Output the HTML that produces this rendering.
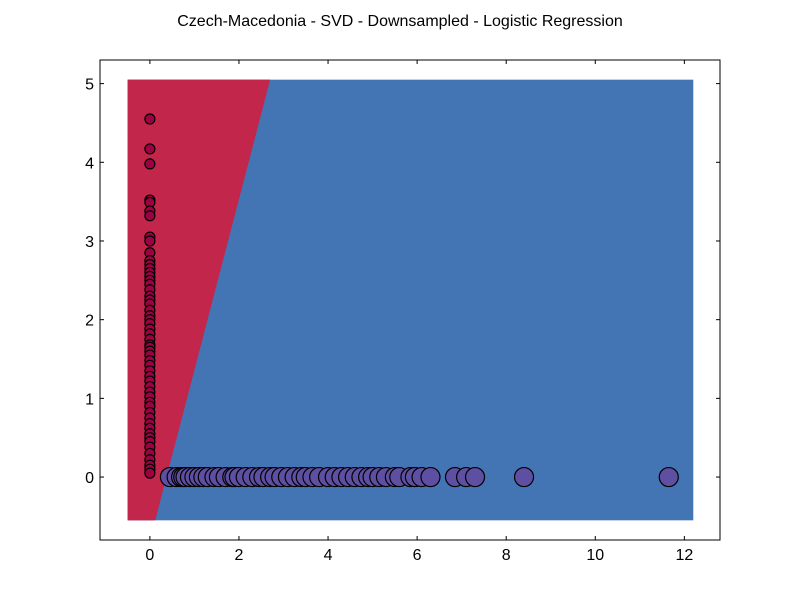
<!DOCTYPE html>
<html><head><meta charset="utf-8"><style>
body{margin:0;background:#fff;font-family:"Liberation Sans",sans-serif}
svg text{font-family:"Liberation Sans",sans-serif}
</style></head><body>
<svg id="chart" width="800" height="600" xmlns="http://www.w3.org/2000/svg">
<rect width="800" height="600" fill="#fff"/>
<text x="400" y="26" text-anchor="middle" font-size="16">Czech-Macedonia - SVD - Downsampled - Logistic Regression</text>
<g id="regions"></g><g id="pts"></g><g id="axes"></g>
</svg>
<script>
const redY=[4.55,4.17,3.98,3.52,3.49,3.38,3.32,3.05,3.0,2.85,2.75,2.7,2.65,2.6,2.55,2.5,2.45,2.38,2.3,2.25,2.2,2.12,2.05,2.0,1.95,1.88,1.82,1.75,1.68,1.65,1.6,1.55,1.48,1.42,1.35,1.28,1.22,1.15,1.08,1.02,0.95,0.9,0.82,0.75,0.68,0.62,0.55,0.5,0.45,0.38,0.3,0.22,0.15,0.1,0.05];
const purpleX=[0.45,0.6,0.7,0.75,0.8,0.9,1.0,1.1,1.2,1.3,1.45,1.55,1.7,1.85,1.9,2.0,2.15,2.3,2.45,2.55,2.7,2.8,2.95,3.1,3.25,3.4,3.5,3.65,3.8,4.0,4.15,4.3,4.45,4.6,4.75,4.9,5.0,5.15,5.3,5.5,5.6,5.85,5.95,6.1,6.3,6.85,7.1,7.3,8.4,11.65];
const xTicks=[0,2,4,6,8,10,12];
const yTicks=[0,1,2,3,4,5];
const boundary=[[2.7,5.05],[0.12,-0.55]];
const X0=100,X1=720,Y0=60,Y1=540,xmin=-1.12,xmax=12.8,ymin=-0.8,ymax=5.3;
const sx=v=>X0+(v-xmin)/(xmax-xmin)*(X1-X0);
const sy=v=>Y1-(v-ymin)/(ymax-ymin)*(Y1-Y0);
const NS="http://www.w3.org/2000/svg";
function mk(t,a,p){const e=document.createElementNS(NS,t);for(const k in a)e.setAttribute(k,a[k]);p.appendChild(e);return e;}
const R=document.getElementById('regions');
let e=mk('rect',{x:sx(-0.5),y:sy(5.05),width:sx(12.2)-sx(-0.5),height:sy(-0.55)-sy(5.05),fill:'#4374b3'},R);

e=mk('polygon',{points:`${sx(-0.5)},${sy(5.05)} ${sx(boundary[0][0])},${sy(boundary[0][1])} ${sx(boundary[1][0])},${sy(boundary[1][1])} ${sx(-0.5)},${sy(-0.55)}`,fill:'#c2264a'},R);

const P=document.getElementById('pts');
redY.forEach(v=>{const c=mk('circle',{cx:sx(0),cy:sy(v),r:5,fill:'#9e0142',stroke:'#000','stroke-width':1.2},P);

});
purpleX.forEach(v=>{const c=mk('circle',{cx:sx(v),cy:sy(0),r:9.5,fill:'#5e4fa2',stroke:'#000','stroke-width':1.2},P);

});
const A=document.getElementById('axes');
e=mk('rect',{x:X0,y:Y0,width:X1-X0,height:Y1-Y0,fill:'none',stroke:'#000','stroke-width':1},A);

xTicks.forEach(t=>{const x=sx(t);
mk('line',{x1:x,x2:x,y1:Y1,y2:Y1-4,stroke:'#000'},A);mk('line',{x1:x,x2:x,y1:Y0,y2:Y0+4,stroke:'#000'},A);
const l=mk('text',{x:x,y:Y1+20,'text-anchor':'middle','font-size':16},A);l.textContent=t;

});
yTicks.forEach(t=>{const y=sy(t);
mk('line',{x1:X0,x2:X0+4,y1:y,y2:y,stroke:'#000'},A);mk('line',{x1:X1,x2:X1-4,y1:y,y2:y,stroke:'#000'},A);
const l=mk('text',{x:X0-6,y:y+6,'text-anchor':'end','font-size':16},A);l.textContent=t;

});
</script>
</body></html>
